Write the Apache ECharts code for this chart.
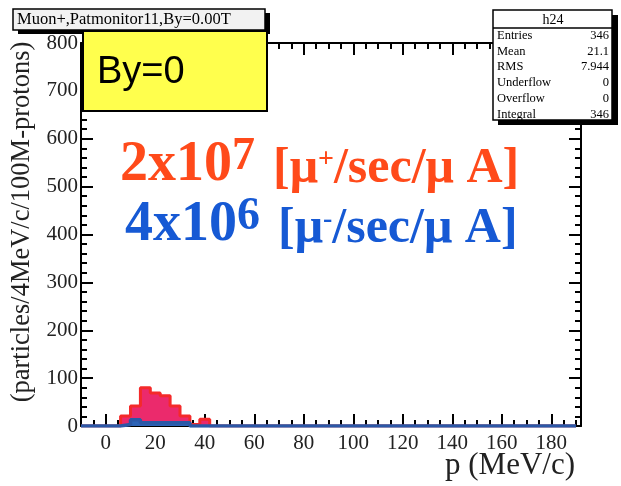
<!DOCTYPE html>
<html>
<head>
<meta charset="utf-8">
<script src="https://cdn.jsdelivr.net/npm/echarts@6/dist/echarts.min.js"></script>
<style>
html, body { margin: 0; padding: 0; background: #fff; }
#chart { width: 621px; height: 486px; }
</style>
</head>
<body>
<div id="chart"></div>
<script>
// histogram h24, 4 MeV/c bins starting at -10
var binStart = -10;
var binWidth = 4;
var muPlus = [0, 0, 0, 0, 21, 42, 80, 69, 63, 42, 21, 3, 14, 0, 0, 0, 0, 0, 0, 0,
              0, 0, 0, 0, 0, 0, 0, 0, 0, 0, 0, 0, 0, 0, 0, 0, 0, 0, 0, 0,
              0, 0, 0, 0, 0, 0, 0, 0, 0, 0];
var muMinus = [0, 0, 0, 0, 3, 13, 7, 7, 7, 7, 7, 0, 0, 0, 0, 0, 0, 0, 0, 0,
               0, 0, 0, 0, 0, 0, 0, 0, 0, 0, 0, 0, 0, 0, 0, 0, 0, 0, 0, 0,
               0, 0, 0, 0, 0, 0, 0, 0, 0, 0];
var xRange = [-10, 192];
var yRange = [0, 800];
var histName = 'h24';
var statNames = ['Entries', 'Mean', 'RMS', 'Underflow', 'Overflow', 'Integral'];
var statValues = ['346', '21.1', '7.944', '0', '0', '346'];
var plotTitle = 'Muon+,Patmonitor11,By=0.00T';

var serif = 'Liberation Serif';
var red = '#ff4a1a';
var blue = '#1659d4';

// step points: left edge of every bin, plus the right edge of the last one
function stepData(vals) {
    var pts = [];
    for (var i = 0; i < vals.length; i++) {
        pts.push([binStart + i * binWidth, vals[i]]);
    }
    pts.push([binStart + vals.length * binWidth, vals[vals.length - 1]]);
    return pts;
}

function frameAxis(pos, major, labels) {
    return {
        type: 'value', position: pos, min: xRange[0], max: xRange[1],
        splitNumber: major ? 10 : undefined,
        interval: major ? undefined : 5,
        axisLine: { show: major, onZero: false, lineStyle: { color: '#000', width: 2 } },
        axisTick: { show: true, inside: true, length: major ? 12 : 6, lineStyle: { color: '#000', width: 2 } },
        axisLabel: {
            show: labels, showMinLabel: false, showMaxLabel: false,
            fontFamily: serif, fontSize: 21, color: '#222', margin: 7
        },
        splitLine: { show: false }
    };
}

function yFrame(pos, labels) {
    return {
        type: 'value', position: pos, min: yRange[0], max: yRange[1], interval: 100,
        axisLine: { show: true, onZero: false, lineStyle: { color: '#000', width: 2 } },
        axisTick: { show: true, inside: true, length: 12, lineStyle: { color: '#000', width: 2 } },
        minorTick: { show: true, splitNumber: 5, length: 6, lineStyle: { color: '#000', width: 2 } },
        axisLabel: { show: labels, fontFamily: serif, fontSize: 21, color: '#222', margin: 3 },
        splitLine: { show: false }
    };
}

var statRows = [];
statNames.forEach(function (name, i) {
    var y = 35.5 + i * 15.8;
    statRows.push({ type: 'text', x: 497, y: y, z: 102,
        style: { text: name, fontFamily: serif, fontSize: 12.5, fill: '#000', align: 'left', verticalAlign: 'middle' } });
    statRows.push({ type: 'text', x: 609, y: y, z: 102,
        style: { text: statValues[i], fontFamily: serif, fontSize: 12.5, fill: '#000', align: 'right', verticalAlign: 'middle' } });
});

function rateText(top, left, color, mant, exp, sign) {
    return {
        type: 'text', x: left, y: top, z: 105,
        style: {
            text: '{b|' + mant + '}{s|' + exp + '}{sp| }{u|[μ}{us|' + sign + '}{u|/sec/μ A]}',
            fill: color,
            rich: {
                b: { fontFamily: serif, fontWeight: 'bold', fontSize: 56, lineHeight: 60, fill: color, verticalAlign: 'bottom' },
                s: { fontFamily: serif, fontWeight: 'bold', fontSize: 46, lineHeight: 24, fill: color, verticalAlign: 'top' },
                sp: { fontSize: 20, width: 18 },
                u: { fontFamily: serif, fontWeight: 'bold', fontSize: 50, lineHeight: 57, fill: color, verticalAlign: 'bottom' },
                us: { fontFamily: serif, fontWeight: 'bold', fontSize: 28, padding: [12, 0, 0, 0], fill: color, verticalAlign: 'top' }
            }
        }
    };
}

var chart = echarts.init(document.getElementById('chart'));
var option = {
    animation: false,
    backgroundColor: '#fff',
    grid: { left: 81, right: 40, top: 43, bottom: 60, containLabel: false },
    xAxis: [
        frameAxis('bottom', true, true),
        frameAxis('bottom', false, false),
        frameAxis('top', true, false),
        frameAxis('top', false, false)
    ],
    yAxis: [yFrame('left', true), yFrame('right', false)],
    series: [
        {
            name: 'mu+', type: 'line', step: 'end', symbol: 'none',
            xAxisIndex: 0, yAxisIndex: 0,
            data: stepData(muPlus),
            lineStyle: { color: '#f42a2a', width: 3 },
            areaStyle: { color: '#eb2a6c', opacity: 1 },
            z: 3
        },
        {
            name: 'mu-', type: 'line', step: 'end', symbol: 'none',
            xAxisIndex: 0, yAxisIndex: 0,
            data: stepData(muMinus),
            lineStyle: { color: '#2b58a6', width: 3.5 },
            areaStyle: { color: '#2d63b6', opacity: 1 },
            z: 4
        }
    ],
    graphic: [
        // pad title
        { type: 'rect', shape: { x: 18, y: 13, width: 252, height: 21 }, style: { fill: '#000' }, z: 100 },
        { type: 'rect', shape: { x: 13, y: 9, width: 252, height: 21 }, style: { fill: '#f2f2f2', stroke: '#000', lineWidth: 1.5 }, z: 100 },
        { type: 'text', x: 17, y: 20, z: 101,
          style: { text: plotTitle, fontFamily: serif, fontSize: 16.5, fill: '#000', verticalAlign: 'middle' } },
        // yellow label
        { type: 'rect', shape: { x: 83, y: 31, width: 184, height: 80 }, style: { fill: '#ffff4d', stroke: '#000', lineWidth: 2 }, z: 103 },
        { type: 'text', x: 97, y: 73, z: 104,
          style: { text: 'By=0', fontFamily: 'Liberation Sans', fontSize: 38, fill: '#000', verticalAlign: 'middle' } },
        // stats box
        { type: 'rect', shape: { x: 498, y: 15, width: 120, height: 110 }, style: { fill: '#000' }, z: 100 },
        { type: 'rect', shape: { x: 493, y: 10, width: 119, height: 110 }, style: { fill: '#fff', stroke: '#000', lineWidth: 1.5 }, z: 101 },
        { type: 'line', shape: { x1: 493, y1: 28, x2: 612, y2: 28 }, style: { stroke: '#000', lineWidth: 1.5 }, z: 102 },
        { type: 'text', x: 553, y: 20, z: 102,
          style: { text: histName, fontFamily: serif, fontSize: 14, fill: '#000', align: 'center', verticalAlign: 'middle' } }
    ].concat(statRows).concat([
        rateText(134, 120, red, '2x10', '7', '+'),
        rateText(194, 125, blue, '4x10', '6', '-'),
        // axis titles
        { type: 'text', x: 22, y: 222, rotation: Math.PI / 2, z: 101,
          style: { text: '(particles/4MeV/c/100M-protons)', fontFamily: serif, fontSize: 26.5, fill: '#222', align: 'center', verticalAlign: 'middle' } },
        { type: 'text', x: 575, y: 466, z: 101,
          style: { text: 'p (MeV/c)', fontFamily: serif, fontSize: 31, fill: '#222', align: 'right', verticalAlign: 'middle' } }
    ])
};
chart.setOption(option);
</script>
</body>
</html>
